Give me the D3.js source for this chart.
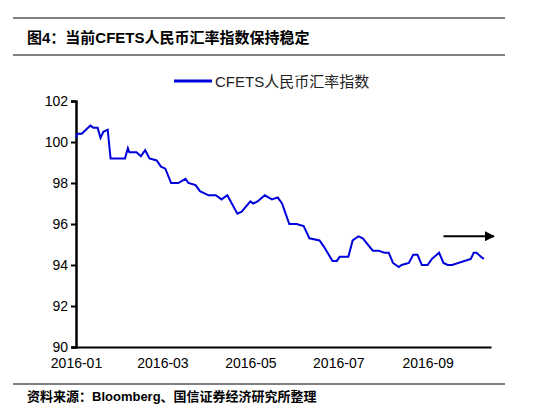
<!DOCTYPE html>
<html><head><meta charset="utf-8">
<script src="https://cdn.jsdelivr.net/npm/d3@7"></script>
<style>body{margin:0;background:#fff}</style>
</head><body>
<svg id="chart" width="545" height="412"></svg>
<script>
// data
var dates = ["2016-01-01","2016-01-02","2016-01-05","2016-01-11","2016-01-13","2016-01-16","2016-01-18","2016-01-20","2016-01-23","2016-01-25",
  "2016-02-04","2016-02-06","2016-02-07","2016-02-12","2016-02-15","2016-02-18","2016-02-21","2016-02-26","2016-02-29","2016-03-03",
  "2016-03-07","2016-03-12","2016-03-17","2016-03-19","2016-03-24","2016-03-27","2016-04-02","2016-04-07","2016-04-11","2016-04-15",
  "2016-04-22","2016-04-25","2016-05-01","2016-05-03","2016-05-06","2016-05-11","2016-05-16","2016-05-20","2016-05-23","2016-05-28",
  "2016-06-02","2016-06-07","2016-06-11","2016-06-18","2016-06-21","2016-06-27","2016-06-30","2016-07-02","2016-07-08","2016-07-11",
  "2016-07-15","2016-07-18","2016-07-25","2016-07-29","2016-08-02","2016-08-05","2016-08-08","2016-08-12","2016-08-14","2016-08-19",
  "2016-08-22","2016-08-25","2016-08-28","2016-09-01","2016-09-04","2016-09-09","2016-09-12","2016-09-15","2016-09-18","2016-10-01",
  "2016-10-03","2016-10-05","2016-10-08","2016-10-10"];
var values = [100.2,100.4,100.4,100.8,100.7,100.7,100.2,100.5,100.6,99.2,
  99.2,99.7,99.5,99.5,99.3,99.6,99.2,99.1,98.8,98.7,
  98.0,98.0,98.2,98.0,97.9,97.6,97.4,97.4,97.2,97.4,
  96.5,96.6,97.1,97.0,97.1,97.4,97.2,97.3,97.0,96.0,
  96.0,95.9,95.3,95.2,94.9,94.2,94.2,94.4,94.4,95.2,
  95.4,95.3,94.7,94.7,94.6,94.6,94.1,93.9,94.0,94.1,
  94.5,94.5,94.0,94.0,94.3,94.6,94.1,94.0,94.0,94.3,
  94.6,94.6,94.4,94.3];
var yTicks = [90,92,94,96,98,100,102];
var xTicks = ["2016-01-01","2016-03-01","2016-05-01","2016-07-01","2016-09-01"];
var arrowPts = [["2016-09-12",95.4],["2016-10-17",95.4]];
var seriesName = "CFETS人民币汇率指数";

var parse = d3.timeParse("%Y-%m-%d");
var data = dates.map((d,i) => ({date: parse(d), value: values[i]}));
var svg = d3.select("#chart");
var font = "Arial, 'Liberation Sans', 'Noto Sans CJK SC', sans-serif";

var x = d3.scaleTime().domain([parse("2016-01-01"), parse("2016-10-15")]).range([76, 491]);
var y = d3.scaleLinear().domain([90, 102]).range([347, 101]);

// header
svg.append("line").attr("x1",13).attr("x2",505).attr("y1",18).attr("y2",18).attr("stroke","#000").attr("stroke-width",1.2);
svg.append("line").attr("x1",13).attr("x2",505).attr("y1",55).attr("y2",55).attr("stroke","#000").attr("stroke-width",1.2);
svg.append("text").attr("x",27).attr("y",43).attr("font-family",font).attr("font-weight","bold")
  .attr("font-size",15).text("图4：当前CFETS人民币汇率指数保持稳定");

// legend
svg.append("line").attr("x1",174).attr("x2",212).attr("y1",81).attr("y2",81).attr("stroke","#0000dd").attr("stroke-width",3);
svg.append("text").attr("x",215).attr("y",87).attr("font-family",font).attr("font-size",15).attr("fill","#222").text(seriesName);

// y axis
var ya = svg.append("g").attr("transform","translate(76,0)")
  .call(d3.axisLeft(y).tickValues(yTicks).tickSize(5).tickFormat(d3.format("d")));
ya.select(".domain").attr("stroke-width",2.5);
ya.selectAll(".tick line").attr("stroke-width",2);
ya.selectAll("text").attr("font-family",font).attr("font-size",14).attr("fill","#000");

// x axis
var xa = svg.append("g").attr("transform","translate(0,347)")
  .call(d3.axisBottom(x).tickValues(xTicks.map(parse)).tickSize(0).tickPadding(11).tickFormat(d3.timeFormat("%Y-%m")));
xa.select(".domain").attr("stroke-width",2);
xa.selectAll("text").attr("font-family",font).attr("font-size",14).attr("fill","#000");

// line
svg.append("path").datum(data)
  .attr("fill","none").attr("stroke","#0000dd").attr("stroke-width",2)
  .attr("d", d3.line().x(d => x(d.date)).y(d => y(d.value)));

// arrow
svg.append("defs").append("marker").attr("id","ah").attr("viewBox","0 0 10 10")
  .attr("refX",9).attr("refY",5).attr("markerWidth",5).attr("markerHeight",5).attr("orient","auto")
  .append("path").attr("d","M0,0L10,5L0,10Z").attr("fill","#000");
svg.append("line")
  .attr("x1",x(parse(arrowPts[0][0]))).attr("y1",y(arrowPts[0][1]))
  .attr("x2",x(parse(arrowPts[1][0]))).attr("y2",y(arrowPts[1][1]))
  .attr("stroke","#000").attr("stroke-width",2).attr("marker-end","url(#ah)");

// footer
svg.append("line").attr("x1",13).attr("x2",505).attr("y1",384).attr("y2",384).attr("stroke","#000").attr("stroke-width",1.2);
svg.append("text").attr("x",27).attr("y",401).attr("font-family",font).attr("font-weight","bold")
  .attr("font-size",13).text("资料来源：Bloomberg、国信证券经济研究所整理");
</script>
</body></html>
